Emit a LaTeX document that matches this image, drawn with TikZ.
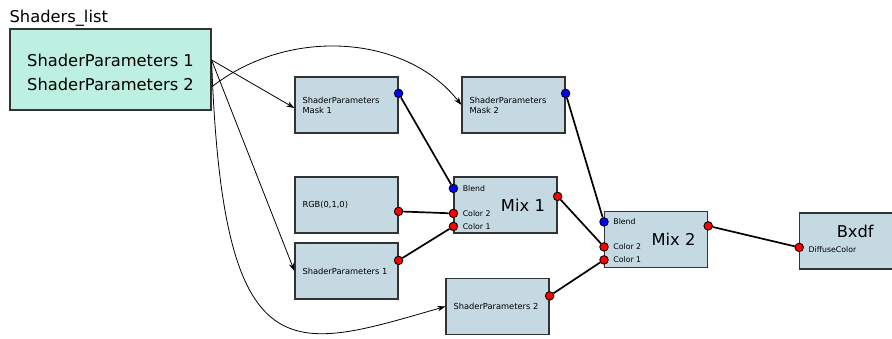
\documentclass[tikz,border=0pt]{standalone}
\usepackage{fontspec}
\setmainfont{DejaVu Sans}
\usetikzlibrary{arrows.meta,positioning}
\definecolor{clist}{HTML}{BDF0E0}
\definecolor{cnode}{HTML}{C5D9E2}
\definecolor{cedge}{HTML}{333333}
\definecolor{cport}{HTML}{FF0000}
\definecolor{cmask}{HTML}{0000FF}
\tikzset{
  lbox/.style={draw=cedge, fill=clist, line width=1.2pt,
               minimum width=201pt, minimum height=81pt},
  ltext/.style={font=\fontsize{16.3}{19}\selectfont, inner sep=0pt},
  nbox/.style={draw=cedge, fill=cnode, line width=1.2pt, minimum height=56pt,
               text width=88pt, inner xsep=7.5pt, align=left,
               font=\fontsize{8.3}{10}\selectfont},
  mbox/.style={nbox, text width=79pt, inner xsep=12pt, align=right,
               font=\fontsize{16.3}{19}\selectfont},
  pred/.style={circle, draw=black, fill=cport, line width=0.9pt,
               minimum size=8.5pt, inner sep=0pt},
  pblue/.style={pred, fill=cmask},
  portlbl/.style={font=\fontsize{7.8}{9}\selectfont, inner sep=0pt},
  wire/.style={line width=1.7pt},
  feed/.style={-{Stealth[length=8pt,width=5.5pt]}, line width=0.8pt},
}
\begin{document}
\begin{tikzpicture}[x=1pt, y=1pt]
  \useasboundingbox (0,0) rectangle (892,338);
  % shader list
  \node[lbox] (list) at (110.5,268.5) {};
  \node[font=\fontsize{16.3}{19}\selectfont, anchor=base west, inner sep=0pt]
     (title) at ([yshift=5.7pt]list.north west) {Shaders\_list};
  \node[ltext] (l1) at (110.5,278) {ShaderParameters 1};
  \node[ltext] (l2) at (110.5,254) {ShaderParameters 2};
  \coordinate (o1) at (list.east |- l1);
  \coordinate (o2) at ([yshift=-3pt]list.east |- l2);
  % shader nodes
  \node[nbox] (mask1) at (346.5,233) {ShaderParameters\\Mask 1};
  \node[nbox, right=62.8pt of mask1] (mask2) {ShaderParameters\\Mask 2};
  \node[nbox, below=42.8pt of mask1] (rgb) {RGB(0,1,0)};
  \node[nbox, below=8.8pt of rgb] (sp1) {ShaderParameters 1};
  \node[mbox, right=54.8pt of rgb] (mix1) {Mix 1};
  \node[mbox, right=46.4pt of mix1, yshift=-34.5pt] (mix2) {Mix 2};
  \node[nbox] (sp2) at (497.5,31.5) {ShaderParameters 2};
  \node[nbox, text width=110pt, right=91pt of mix2, yshift=-1.5pt] (bxdf) {};
  \node[font=\fontsize{16.3}{19}\selectfont, inner sep=0pt]
     (bxdft) at ([xshift=56pt,yshift=-19pt]bxdf.north west) {Bxdf};
  % ports
  \node[pblue] (mk1o) at ([yshift=-17pt]mask1.north east) {};
  \node[pblue] (mk2o) at ([yshift=-17pt]mask2.north east) {};
  \node[pred] (rgbo) at ([yshift=-35pt]rgb.north east) {};
  \node[pred] (sp1o) at ([yshift=-18pt]sp1.north east) {};
  \node[pred] (sp2o) at ([yshift=-18pt]sp2.north east) {};
  \node[pblue] (m1bl) at ([yshift=-12pt]mix1.north west) {};
  \node[pred] (m1c2) at ([yshift=-37pt]mix1.north west) {};
  \node[pred] (m1c1) at ([yshift=-50pt]mix1.north west) {};
  \node[pred] (m1o) at ([yshift=-20pt]mix1.north east) {};
  \node[pblue] (m2bl) at ([yshift=-11pt]mix2.north west) {};
  \node[pred] (m2c2) at ([yshift=-36pt]mix2.north west) {};
  \node[pred] (m2c1) at ([yshift=-49pt]mix2.north west) {};
  \node[pred] (m2o) at ([yshift=-15pt]mix2.north east) {};
  \node[pred] (bxi) at ([yshift=-35pt]bxdf.north west) {};
  \node[portlbl, anchor=west, right=4.5pt of m1bl] (m1blt) {Blend};
  \node[portlbl, anchor=west, right=4.5pt of m1c2] (m1c2t) {Color 2};
  \node[portlbl, anchor=west, right=4.5pt of m1c1] (m1c1t) {Color 1};
  \node[portlbl, anchor=west, right=4.5pt of m2bl] (m2blt) {Blend};
  \node[portlbl, anchor=west, right=4.5pt of m2c2] (m2c2t) {Color 2};
  \node[portlbl, anchor=west, right=4.5pt of m2c1] (m2c1t) {Color 1};
  \node[portlbl, anchor=west, right=4.5pt of bxi, yshift=-2pt] (bxit) {DiffuseColor};
  % wires
  \foreach \a/\b in {mk1o/m1bl, mk2o/m2bl, rgbo/m1c2, sp1o/m1c1, m1o/m2c2, sp2o/m2c1, m2o/bxi}
     \draw[wire] (\a) -- (\b);
  % list feeds
  \draw[feed] (o1) -- ([yshift=-3pt]mask1.west);
  \draw[feed] (o1) -- (sp1.west);
  \draw[feed] (o1) to[out=-88, in=196, out distance=320pt, in distance=160pt] (sp2.west);
  \draw[feed] (o2) to[out=38, in=128, out distance=100pt, in distance=88pt] (mask2.west);
\end{tikzpicture}
\end{document}
